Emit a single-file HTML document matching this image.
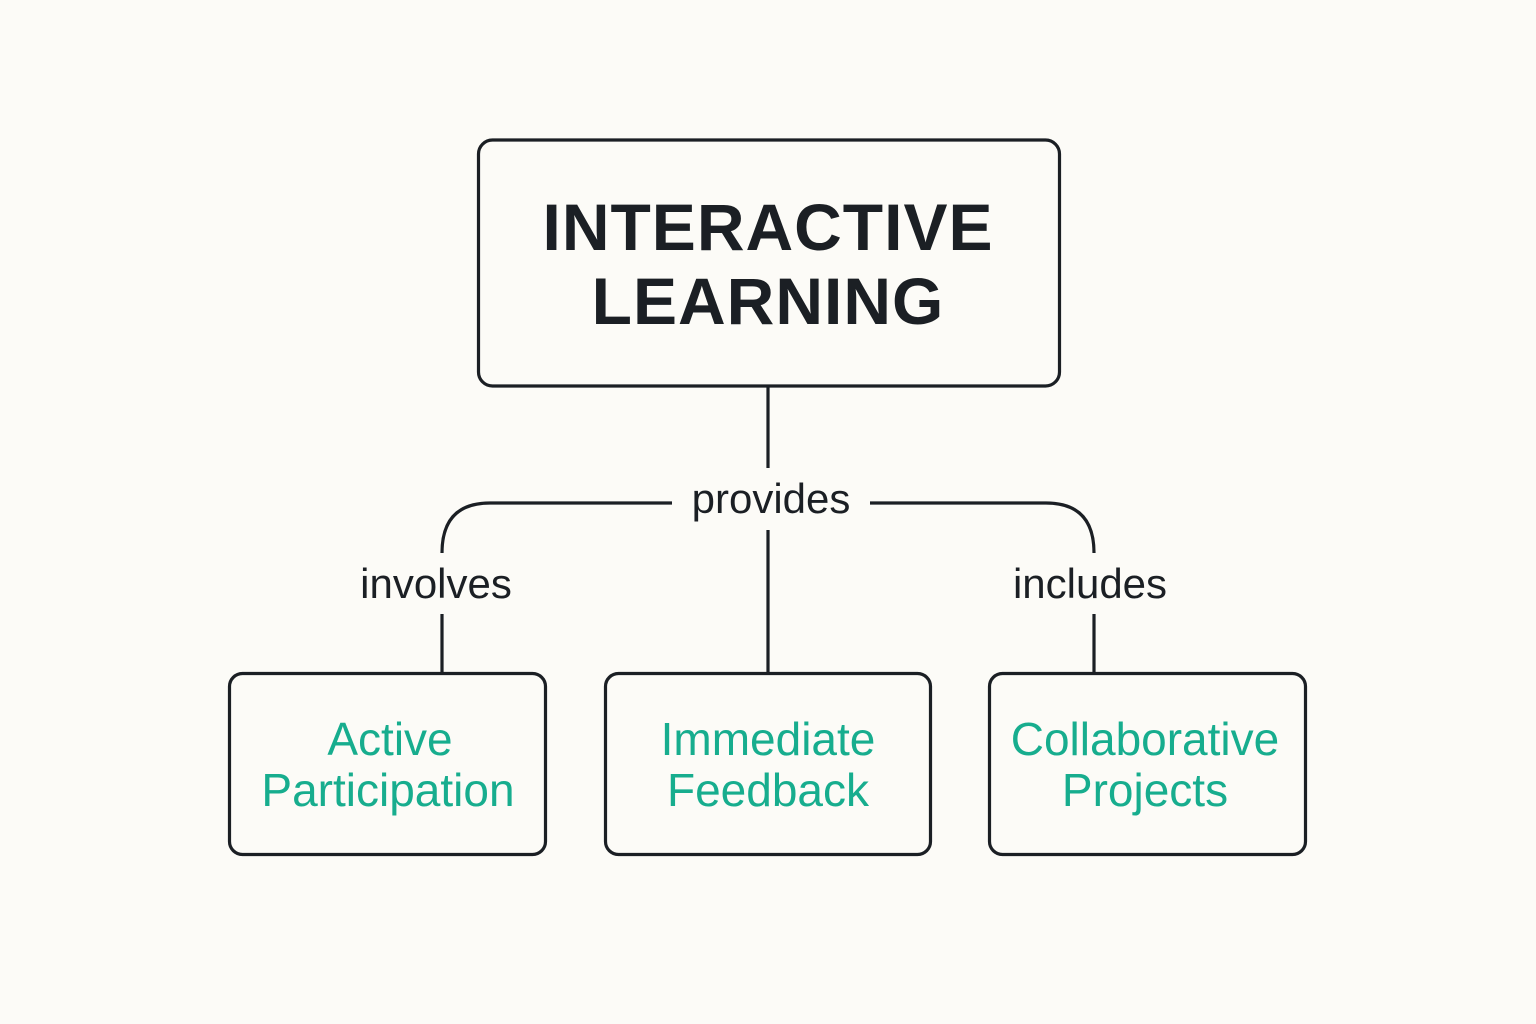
<!DOCTYPE html>
<html><head><meta charset="utf-8"><style>
html,body{margin:0;padding:0;background:#fcfbf7;}
svg{display:block}
</style></head><body>
<svg width="1536" height="1024" viewBox="0 0 1536 1024" xmlns="http://www.w3.org/2000/svg">
<rect width="1536" height="1024" fill="#fcfbf7"/>
<g fill="none" stroke="#1b1f24" stroke-width="3.2">
<rect x="478.5" y="140" width="581" height="246" rx="14"/>
<rect x="229.5" y="673.5" width="316" height="181" rx="13"/>
<rect x="605.5" y="673.5" width="325" height="181" rx="13"/>
<rect x="989.5" y="673.5" width="316" height="181" rx="13"/>
<line x1="768" y1="386" x2="768" y2="468"/>
<line x1="768" y1="530" x2="768" y2="673"/>
<path d="M672 503 H490 Q442 503 442 553"/>
<line x1="442" y1="614" x2="442" y2="673"/>
<path d="M870 503 H1046 Q1094 503 1094 553"/>
<line x1="1094" y1="614" x2="1094" y2="673"/>
</g>
<g font-family="Liberation Sans, DejaVu Sans, sans-serif" text-anchor="middle">
<text x="768" y="250" font-size="66" font-weight="bold" fill="#1b1f24" letter-spacing="1">INTERACTIVE</text>
<text x="768" y="324" font-size="66" font-weight="bold" fill="#1b1f24" letter-spacing="1">LEARNING</text>
<text x="771" y="513" font-size="42" fill="#1b1f24">provides</text>
<text x="436" y="598" font-size="42" fill="#1b1f24">involves</text>
<text x="1090" y="598" font-size="42" fill="#1b1f24">includes</text>
<g font-size="46" fill="#17ad8e">
<text x="390" y="755">Active</text>
<text x="388" y="806">Participation</text>
<text x="768" y="755">Immediate</text>
<text x="768" y="806">Feedback</text>
<text x="1145" y="755">Collaborative</text>
<text x="1145" y="806">Projects</text>
</g>
</g>
</svg>
</body></html>
